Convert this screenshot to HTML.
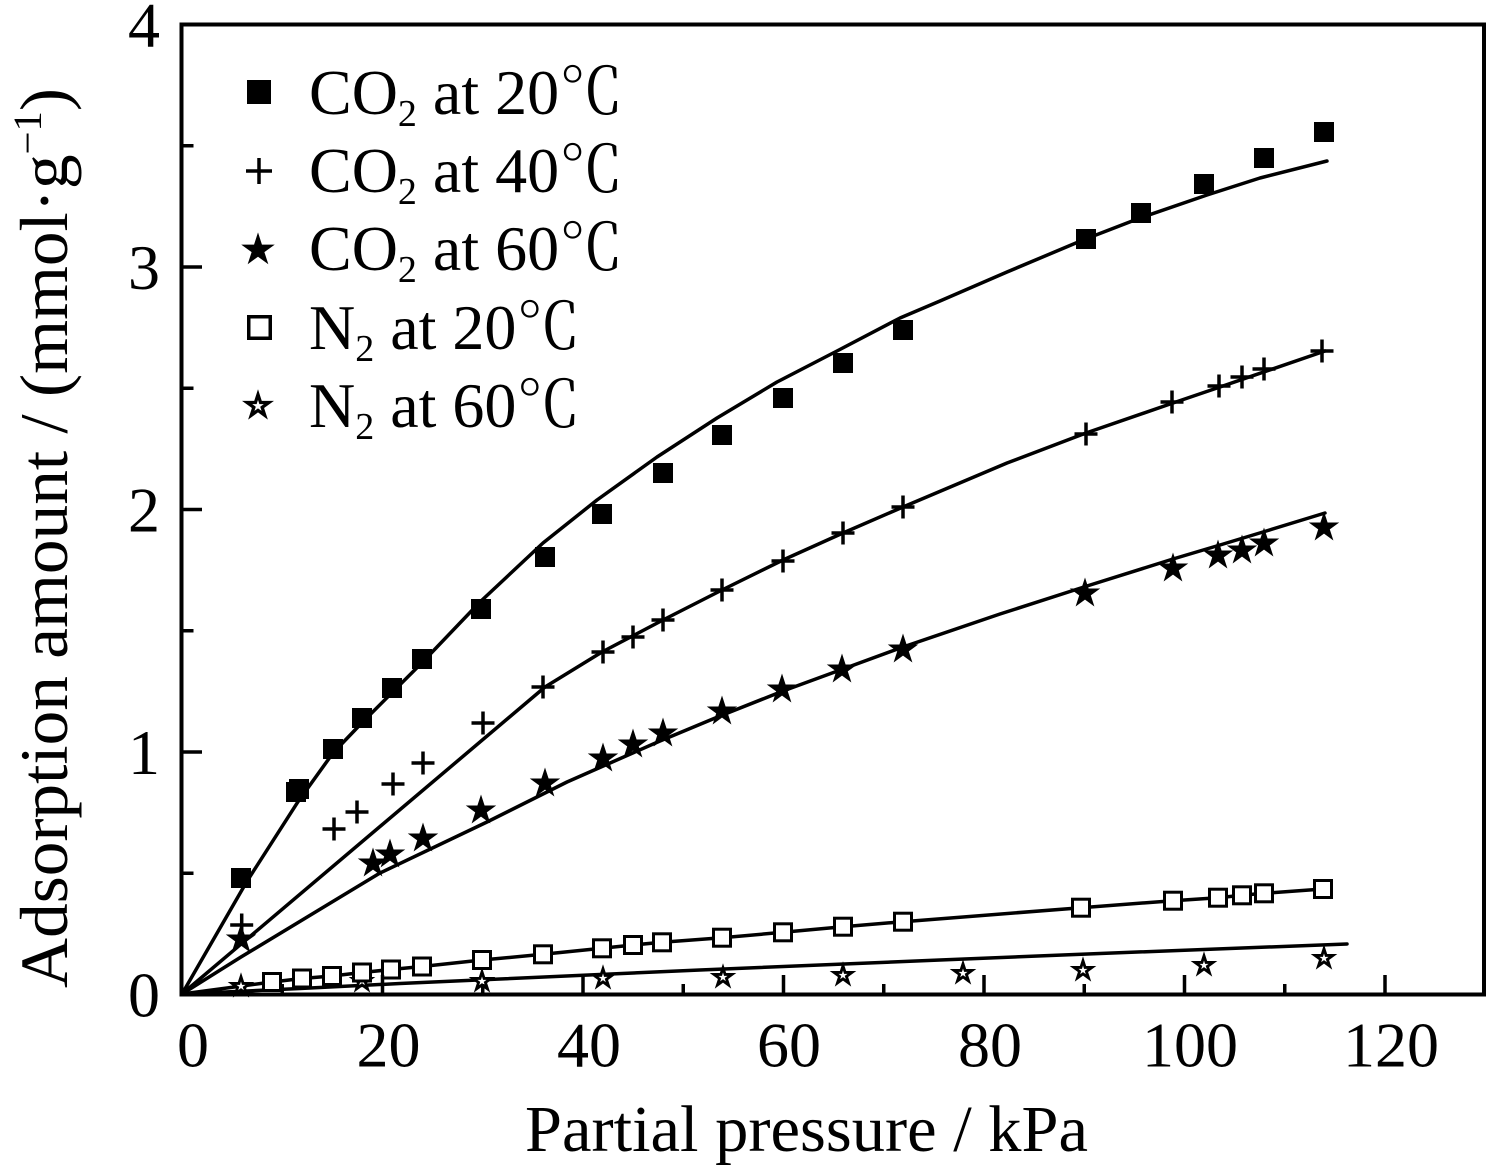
<!DOCTYPE html>
<html>
<head>
<meta charset="utf-8">
<style>
html,body{margin:0;padding:0;background:#fff;}
svg{display:block;}
text{font-family:"Liberation Serif","Noto Serif CJK SC",serif;fill:#000;}
.c{font-family:"Noto Serif CJK SC","Liberation Serif",serif;}
</style>
</head>
<body>
<svg width="1488" height="1167" viewBox="0 0 1488 1167" xmlns="http://www.w3.org/2000/svg" xmlns:xlink="http://www.w3.org/1999/xlink">
<defs>
  <rect id="fs" x="-10" y="-10" width="20" height="20" fill="#000"/>
  <rect id="os" x="-8.5" y="-8.5" width="17" height="17" fill="#fff" stroke="#000" stroke-width="3"/>
  <path id="pl" d="M-11.5 0H11.5M0 -11.5V11.5" stroke="#000" stroke-width="3.5" fill="none"/>
  <polygon id="st" transform="translate(0,1.5)" fill="#000" points="0,-16 3.59,-4.94 15.22,-4.94 5.8,1.88 9.4,12.94 0,6.1 -9.4,12.94 -5.8,1.88 -15.22,-4.94 -3.59,-4.94"/>
  <g id="ost">
    <polygon transform="translate(0,1.3) scale(0.875)" fill="#000" points="0,-16 3.59,-4.94 15.22,-4.94 5.8,1.88 9.4,12.94 0,6.1 -9.4,12.94 -5.8,1.88 -15.22,-4.94 -3.59,-4.94"/>
    <polygon transform="translate(0,1.3) scale(0.3)" fill="#fff" points="0,-16 3.59,-4.94 15.22,-4.94 5.8,1.88 9.4,12.94 0,6.1 -9.4,12.94 -5.8,1.88 -15.22,-4.94 -3.59,-4.94"/>
  </g>
</defs>

<!-- fit lines -->
<g fill="none" stroke="#000" stroke-width="3.5" stroke-linejoin="round" stroke-linecap="round">
  <polyline points="182,994 246.7,881.7 298,801.7 333,753 361.7,723 393,691.7 421.7,663 480,602 543,543 597,500 657,457 717,418 777,382 837,351 900,318 940,301 1007,272 1083,240 1140,218 1207,195 1260,178 1327,161"/>
  <polyline points="182,994 545,687 602,652 663,620 722,590 783,560 843,533 903,507 1007,463 1086,433 1173,403 1220,387 1325,351"/>
  <polyline points="182,994 241,957 380,873 487,822 567,782 660,741 720,716 783,691 843,669 903,647 1000,614 1087,586 1173,559 1220,545 1263,532 1325,513"/>
  <polyline points="182,994 272,982 302,978.5 332,976 362,972.5 391,969.5 422,966.5 482,960 543,954.3 602,948.3 633,945 662,942.3 722,937.7 783,932.3 843,926.7 903,921.7 1081,907.7 1173,900.7 1218,897.7 1242,895.3 1264,893.3 1323,889"/>
  <polyline points="182,994 300,988.5 400,983.5 500,979 700,970 940,960 1100,953.5 1347,944"/>
</g>

<!-- CO2 20 filled squares -->
<g>
  <use href="#fs" x="241" y="878"/>
  <use href="#fs" x="296" y="792"/>
  <use href="#fs" x="299" y="789"/>
  <use href="#fs" x="333" y="749"/>
  <use href="#fs" x="362" y="718"/>
  <use href="#fs" x="392" y="688"/>
  <use href="#fs" x="422" y="659"/>
  <use href="#fs" x="481" y="609"/>
  <use href="#fs" x="545" y="557"/>
  <use href="#fs" x="602" y="514"/>
  <use href="#fs" x="663" y="473"/>
  <use href="#fs" x="722" y="435"/>
  <use href="#fs" x="783" y="398"/>
  <use href="#fs" x="843" y="363"/>
  <use href="#fs" x="903" y="330"/>
  <use href="#fs" x="1086" y="239"/>
  <use href="#fs" x="1141" y="213"/>
  <use href="#fs" x="1204" y="184"/>
  <use href="#fs" x="1264" y="158"/>
  <use href="#fs" x="1324" y="132"/>
</g>

<!-- CO2 40 plus -->
<g>
  <use href="#pl" x="241.7" y="925"/>
  <use href="#pl" x="334" y="829"/>
  <use href="#pl" x="357" y="812"/>
  <use href="#pl" x="393" y="784"/>
  <use href="#pl" x="423" y="763"/>
  <use href="#pl" x="483" y="723"/>
  <use href="#pl" x="543" y="687"/>
  <use href="#pl" x="603" y="652"/>
  <use href="#pl" x="633" y="637"/>
  <use href="#pl" x="663" y="620"/>
  <use href="#pl" x="722" y="590"/>
  <use href="#pl" x="783" y="561"/>
  <use href="#pl" x="843" y="533"/>
  <use href="#pl" x="903" y="507"/>
  <use href="#pl" x="1086" y="434"/>
  <use href="#pl" x="1172" y="402"/>
  <use href="#pl" x="1219" y="386"/>
  <use href="#pl" x="1242" y="377"/>
  <use href="#pl" x="1264" y="369"/>
  <use href="#pl" x="1322" y="351"/>
</g>

<!-- CO2 60 stars -->
<g>
  <use href="#st" x="241" y="938"/>
  <use href="#st" x="373" y="862"/>
  <use href="#st" x="390" y="853"/>
  <use href="#st" x="423" y="837"/>
  <use href="#st" x="481" y="809"/>
  <use href="#st" x="545" y="782"/>
  <use href="#st" x="603" y="757"/>
  <use href="#st" x="633" y="743"/>
  <use href="#st" x="663" y="732"/>
  <use href="#st" x="722" y="710"/>
  <use href="#st" x="782" y="688"/>
  <use href="#st" x="842" y="668"/>
  <use href="#st" x="903" y="648"/>
  <use href="#st" x="1085" y="592"/>
  <use href="#st" x="1173" y="567"/>
  <use href="#st" x="1218" y="554"/>
  <use href="#st" x="1242" y="549"/>
  <use href="#st" x="1264" y="542"/>
  <use href="#st" x="1324" y="526"/>
</g>

<!-- N2 60 open stars -->
<g>
  <use href="#ost" x="241" y="985"/>
  <use href="#ost" x="362" y="980"/>
  <use href="#ost" x="482" y="980"/>
  <use href="#ost" x="603" y="977"/>
  <use href="#ost" x="723" y="976"/>
  <use href="#ost" x="843" y="974"/>
  <use href="#ost" x="963" y="972"/>
  <use href="#ost" x="1083" y="969"/>
  <use href="#ost" x="1204" y="964"/>
  <use href="#ost" x="1324" y="957"/>
</g>

<!-- N2 20 open squares -->
<g>
  <use href="#os" x="272" y="982"/>
  <use href="#os" x="302" y="978.5"/>
  <use href="#os" x="332" y="976"/>
  <use href="#os" x="362" y="972.5"/>
  <use href="#os" x="391" y="969.5"/>
  <use href="#os" x="422" y="966.5"/>
  <use href="#os" x="482" y="960"/>
  <use href="#os" x="543" y="954.3"/>
  <use href="#os" x="602" y="948.3"/>
  <use href="#os" x="633" y="945"/>
  <use href="#os" x="662" y="942.3"/>
  <use href="#os" x="722" y="937.7"/>
  <use href="#os" x="783" y="932.3"/>
  <use href="#os" x="843" y="926.7"/>
  <use href="#os" x="903" y="921.7"/>
  <use href="#os" x="1081" y="907.7"/>
  <use href="#os" x="1173" y="900.7"/>
  <use href="#os" x="1218" y="897.7"/>
  <use href="#os" x="1242" y="895.3"/>
  <use href="#os" x="1264" y="893.3"/>
  <use href="#os" x="1323" y="889"/>
</g>

<!-- axes frame and ticks -->
<g stroke="#000" stroke-width="3.5" fill="none">
  <rect x="181.5" y="24.5" width="1302.5" height="970" stroke-width="4"/>
  <path d="M181.5 752H202M181.5 509.5H202M181.5 267H202"/>
  <path d="M181.5 873.25H193.5M181.5 630.75H193.5M181.5 388.25H193.5M181.5 145.75H193.5"/>
  <path d="M382.5 994.5V975M583 994.5V975M783.5 994.5V975M984 994.5V975M1184.5 994.5V975M1385 994.5V975"/>
  <path d="M282.25 994.5V984M482.75 994.5V984M683.25 994.5V984M883.75 994.5V984M1084.25 994.5V984M1284.75 994.5V984"/>
</g>

<!-- y tick labels -->
<g font-size="64" text-anchor="middle">
  <text x="144" y="46.5">4</text>
  <text x="144" y="289">3</text>
  <text x="144" y="531.5">2</text>
  <text x="144" y="774">1</text>
  <text x="144" y="1016.5">0</text>
</g>

<!-- x tick labels -->
<g font-size="64" text-anchor="middle">
  <text x="193" y="1066.5">0</text>
  <text x="388.5" y="1066.5">20</text>
  <text x="589" y="1066.5">40</text>
  <text x="789" y="1066.5">60</text>
  <text x="990" y="1066.5">80</text>
  <text x="1190" y="1066.5">100</text>
  <text x="1391" y="1066.5">120</text>
</g>

<!-- axis titles -->
<text x="806.5" y="1151" font-size="66" text-anchor="middle" textLength="563" lengthAdjust="spacingAndGlyphs">Partial pressure / kPa</text>
<text transform="translate(67,538) rotate(-90)" font-size="68" text-anchor="middle" textLength="900" lengthAdjust="spacingAndGlyphs">Adsorption amount / (mmol·g<tspan dy="-26" font-size="40">−1</tspan><tspan dy="26">)</tspan></text>

<!-- legend -->
<g>
  <rect x="247" y="80" width="24" height="24" fill="#000"/>
  <path d="M246 171H272M259 158V184" stroke="#000" stroke-width="3.5"/>
  <polygon transform="translate(258,250) scale(1.1)" fill="#000" points="0,-16 3.59,-4.94 15.22,-4.94 5.8,1.88 9.4,12.94 0,6.1 -9.4,12.94 -5.8,1.88 -15.22,-4.94 -3.59,-4.94"/>
  <rect x="248.75" y="316.75" width="21.5" height="21.5" fill="#fff" stroke="#000" stroke-width="3.5"/>
  <g transform="translate(258,406)">
    <polygon transform="scale(1.05)" fill="#000" points="0,-16 3.59,-4.94 15.22,-4.94 5.8,1.88 9.4,12.94 0,6.1 -9.4,12.94 -5.8,1.88 -15.22,-4.94 -3.59,-4.94"/>
    <polygon transform="scale(0.38)" fill="#fff" points="0,-16 3.59,-4.94 15.22,-4.94 5.8,1.88 9.4,12.94 0,6.1 -9.4,12.94 -5.8,1.88 -15.22,-4.94 -3.59,-4.94"/>
  </g>
</g>
<g font-size="64">
  <text x="309" y="114">CO<tspan font-size="38" dy="12">2</tspan><tspan dy="-12"> at 20</tspan><tspan class="c">℃</tspan></text>
  <text x="309" y="192">CO<tspan font-size="38" dy="12">2</tspan><tspan dy="-12"> at 40</tspan><tspan class="c">℃</tspan></text>
  <text x="309" y="270">CO<tspan font-size="38" dy="12">2</tspan><tspan dy="-12"> at 60</tspan><tspan class="c">℃</tspan></text>
  <text x="309" y="349">N<tspan font-size="38" dy="12">2</tspan><tspan dy="-12"> at 20</tspan><tspan class="c">℃</tspan></text>
  <text x="309" y="427">N<tspan font-size="38" dy="12">2</tspan><tspan dy="-12"> at 60</tspan><tspan class="c">℃</tspan></text>
</g>
</svg>
</body>
</html>
